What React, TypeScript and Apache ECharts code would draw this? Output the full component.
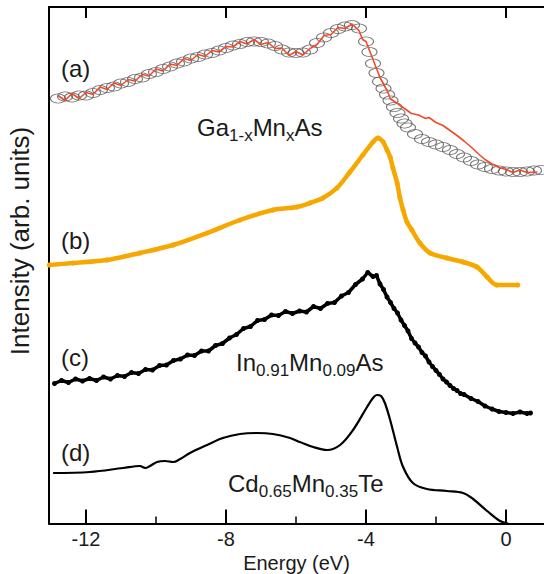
import React, { useEffect, useRef } from "react";
import * as echarts from "echarts";

const majorTicks = [-12, -8, -4, 0];
const minorTicks = [-10, -6, -2];

// (a) Ga1-xMnxAs – measured (open ellipses)
const grayA: [number, number][] = [
  [-12.8, 85.0], [-12.6, 85.4], [-12.4, 85.2], [-12.2, 85.6], [-12.0, 85.6], [-11.8, 86.1],
  [-11.6, 86.7], [-11.4, 87.1], [-11.2, 87.4], [-11.0, 88.0], [-10.8, 88.3], [-10.6, 88.9],
  [-10.4, 89.2], [-10.2, 89.9], [-10.0, 90.3], [-9.8, 90.9], [-9.6, 91.4], [-9.4, 92.0],
  [-9.2, 92.4], [-9.0, 93.0], [-8.8, 93.3], [-8.6, 93.8], [-8.4, 94.1], [-8.2, 94.6],
  [-8.0, 95.1], [-7.8, 95.6], [-7.6, 95.9], [-7.4, 96.3], [-7.2, 96.4], [-7.0, 96.3],
  [-6.8, 96.0], [-6.6, 95.5], [-6.4, 94.8], [-6.2, 94.2], [-6.0, 94.1], [-5.8, 94.2],
  [-5.6, 94.8], [-5.4, 96.1], [-5.2, 97.2], [-5.0, 98.1], [-4.8, 98.9], [-4.6, 99.4],
  [-4.4, 99.7], [-4.2, 99.0], [-4.0, 96.4], [-3.9, 94.3], [-3.8, 92.0], [-3.7, 90.1],
  [-3.6, 88.4], [-3.5, 87.0], [-3.4, 85.8], [-3.3, 84.6], [-3.2, 83.3], [-3.1, 82.1],
  [-3.0, 81.0], [-2.9, 80.0], [-2.8, 79.2], [-2.6, 77.9], [-2.4, 76.9], [-2.2, 76.3],
  [-2.0, 75.8], [-1.8, 75.3], [-1.6, 74.7], [-1.4, 73.9], [-1.2, 73.2], [-1.0, 72.5],
  [-0.8, 71.8], [-0.6, 71.3], [-0.4, 70.9], [-0.2, 70.6], [0.0, 70.4], [0.2, 70.3],
  [0.4, 70.3], [0.6, 70.4], [0.8, 70.6], [1.0, 70.7],
];

// (a) calculated (red line)
const redA: [number, number][] = [
  [-12.8, 85.6], [-12.6, 84.6], [-12.4, 86.0], [-12.2, 85.0], [-12.0, 86.2], [-11.8, 85.8],
  [-11.6, 87.3], [-11.4, 86.8], [-11.2, 88.1], [-11.0, 87.6], [-10.8, 88.8], [-10.6, 88.5],
  [-10.4, 89.8], [-10.2, 89.5], [-10.0, 90.9], [-9.8, 90.5], [-9.6, 91.9], [-9.4, 91.6],
  [-9.2, 93.0], [-9.0, 92.6], [-8.8, 93.8], [-8.6, 93.4], [-8.4, 94.6], [-8.2, 94.3],
  [-8.0, 95.4], [-7.8, 95.3], [-7.6, 96.4], [-7.4, 95.9], [-7.2, 96.8], [-7.0, 95.8],
  [-6.8, 96.2], [-6.6, 95.0], [-6.4, 95.1], [-6.2, 93.6], [-6.0, 94.4], [-5.8, 93.7],
  [-5.6, 95.0], [-5.4, 95.8], [-5.2, 97.6], [-5.0, 97.8], [-4.8, 99.2], [-4.6, 99.0],
  [-4.4, 99.9], [-4.2, 98.6], [-4.1, 96.8], [-4.0, 96.4], [-3.8, 92.8], [-3.6, 89.2],
  [-3.4, 86.6], [-3.3, 84.9], [-3.1, 84.0], [-2.9, 83.0], [-2.7, 82.0], [-2.5, 81.7],
  [-2.3, 81.0], [-2.2, 81.2], [-2.0, 80.2], [-1.8, 79.6], [-1.6, 78.6], [-1.4, 77.6],
  [-1.2, 76.5], [-1.0, 75.3], [-0.8, 74.0], [-0.6, 72.8], [-0.4, 71.9], [-0.2, 71.2],
  [0.0, 70.8], [0.2, 70.2], [0.4, 70.7], [0.6, 70.2], [0.9, 70.3],
];

// (b) orange
const orangeB: [number, number][] = [
  [-13.05, 51.7], [-12.37, 52.1], [-11.4, 52.7], [-10.46, 54.1], [-9.51, 55.7], [-8.54, 58.1],
  [-7.6, 60.7], [-6.66, 62.7], [-5.97, 63.3], [-5.6, 64.1], [-5.23, 65.1], [-4.83, 67.1],
  [-4.46, 70.3], [-4.09, 73.7], [-3.8, 76.3], [-3.66, 77.1], [-3.51, 76.3], [-3.4, 74.7],
  [-3.31, 73.3], [-3.23, 71.1], [-3.11, 68.1], [-3.03, 65.1], [-2.94, 62.7], [-2.83, 60.3],
  [-2.69, 58.7], [-2.46, 56.1], [-2.17, 54.1], [-1.69, 53.1], [-1.23, 52.3], [-0.83, 51.3],
  [-0.54, 49.3], [-0.26, 47.7], [0.34, 47.7],
];

// (c) In0.91Mn0.09As, black dots
const blackC: [number, number][] = [
  [-12.9, 28.0], [-12.7, 28.6], [-12.5, 28.2], [-12.3, 28.9], [-12.1, 28.5], [-11.9, 29.0],
  [-11.7, 28.6], [-11.5, 29.3], [-11.3, 28.9], [-11.1, 29.6], [-10.9, 29.4], [-10.7, 30.2],
  [-10.5, 30.0], [-10.3, 30.8], [-10.1, 30.7], [-9.9, 31.6], [-9.7, 31.7], [-9.5, 32.6],
  [-9.3, 32.9], [-9.1, 33.7], [-8.9, 33.6], [-8.7, 34.5], [-8.5, 34.5], [-8.3, 35.6],
  [-8.1, 36.0], [-7.9, 37.1], [-7.7, 37.8], [-7.5, 39.0], [-7.3, 39.4], [-7.1, 40.6],
  [-6.9, 40.8], [-6.7, 41.7], [-6.5, 41.6], [-6.3, 42.4], [-6.1, 42.0], [-5.9, 42.5],
  [-5.7, 42.3], [-5.5, 43.4], [-5.3, 43.0], [-5.1, 44.0], [-4.9, 44.2], [-4.7, 45.5],
  [-4.5, 46.2], [-4.3, 47.8], [-4.1, 48.9], [-3.95, 50.2], [-3.8, 49.4], [-3.7, 49.6],
  [-3.6, 47.9], [-3.5, 46.8], [-3.4, 45.3], [-3.3, 44.2], [-3.2, 43.0], [-3.1, 42.1],
  [-3.0, 40.7], [-2.9, 39.6], [-2.8, 38.5], [-2.7, 37.0], [-2.6, 36.1], [-2.5, 35.3],
  [-2.4, 34.2], [-2.3, 33.5], [-2.2, 32.3], [-2.1, 31.4], [-2.0, 30.6], [-1.9, 29.8],
  [-1.8, 28.9], [-1.7, 28.3], [-1.6, 27.6], [-1.5, 27.0], [-1.4, 26.6], [-1.3, 26.0],
  [-1.2, 25.8], [-1.0, 25.0], [-0.8, 24.4], [-0.6, 23.5], [-0.4, 22.9], [-0.2, 22.4],
  [0.0, 22.2], [0.2, 22.0], [0.4, 22.3], [0.6, 22.0], [0.7, 22.1],
];

// (d) Cd0.65Mn0.35Te, smooth line
const lineD: [number, number][] = [
  [-12.94, 10.1], [-11.89, 10.3], [-10.94, 11.1], [-10.46, 11.5], [-10.31, 11.1], [-10.17, 11.5],
  [-9.97, 12.3], [-9.74, 12.5], [-9.51, 12.3], [-9.31, 12.9], [-9.03, 14.1], [-8.54, 15.7],
  [-8.09, 17.1], [-7.6, 17.9], [-7.11, 18.1], [-6.66, 17.9], [-6.17, 17.1], [-5.89, 16.3],
  [-5.51, 15.3], [-5.11, 14.7], [-4.74, 15.7], [-4.37, 18.7], [-3.97, 23.3], [-3.8, 25.1],
  [-3.69, 25.7], [-3.57, 25.5], [-3.46, 24.1], [-3.31, 20.7], [-3.11, 15.3], [-2.94, 11.3],
  [-2.66, 8.1], [-2.26, 6.9], [-1.69, 6.5], [-1.23, 6.1], [-0.94, 4.9], [-0.54, 2.5],
  [-0.17, 0.5], [0.06, 0.0],
];

const FONT = "'Liberation Sans', Arial, Helvetica, sans-serif";
const TXT = "#1a1a1a";

// layout of the energy axis (pixels)
const W = 544;
const PX_PER_EV = 35;
const X_ZERO = 506;
const PLOT_LEFT = 49;
const Y_MIN = 0;
const Y_MAX = 103.3;
const eAt = (px: number) => (px - X_ZERO) / PX_PER_EV;

function formula(parts: [string, boolean][]) {
  return parts.map(([t, sub]) => `{${sub ? "s" : "m"}|${t}}`).join("");
}
const richStyle = {
  m: { fontSize: 24, fontFamily: FONT, fill: TXT, verticalAlign: "top" },
  s: { fontSize: 17, fontFamily: FONT, fill: TXT, verticalAlign: "top", padding: [12, 0, 0, 0] },
};

const textGraphics: any[] = [
  {
    type: "text", x: 20, y: 241, rotation: Math.PI / 2,
    style: { text: "Intensity (arb. units)", fontSize: 26, fontFamily: FONT, fill: TXT, align: "center", verticalAlign: "middle" },
  },
  { type: "text", x: 61, y: 68, style: { text: "(a)", fontSize: 24, fontFamily: FONT, fill: TXT, align: "left", verticalAlign: "middle" } },
  { type: "text", x: 61, y: 240, style: { text: "(b)", fontSize: 24, fontFamily: FONT, fill: TXT, align: "left", verticalAlign: "middle" } },
  { type: "text", x: 61, y: 357, style: { text: "(c)", fontSize: 24, fontFamily: FONT, fill: TXT, align: "left", verticalAlign: "middle" } },
  { type: "text", x: 61, y: 452, style: { text: "(d)", fontSize: 24, fontFamily: FONT, fill: TXT, align: "left", verticalAlign: "middle" } },
  {
    type: "text", x: 197, y: 115,
    style: { text: formula([["Ga", false], ["1-x", true], ["Mn", false], ["x", true], ["As", false]]), rich: richStyle, align: "left", verticalAlign: "top" },
  },
  {
    type: "text", x: 236, y: 350,
    style: { text: formula([["In", false], ["0.91", true], ["Mn", false], ["0.09", true], ["As", false]]), rich: richStyle, align: "left", verticalAlign: "top" },
  },
  {
    type: "text", x: 228, y: 471,
    style: { text: formula([["Cd", false], ["0.65", true], ["Mn", false], ["0.35", true], ["Te", false]]), rich: richStyle, align: "left", verticalAlign: "top" },
  },
];

export default function App() {
  const ref = useRef<HTMLDivElement>(null);
  useEffect(() => {
    const chart = echarts.init(ref.current!, null, { renderer: "svg" });
    const axisLineStyle = { color: "#000", width: 2 };
    chart.setOption({
      animation: false,
      backgroundColor: "#fff",
      grid: { left: PLOT_LEFT, right: 0, top: 7, bottom: 50.5, outerBoundsMode: "none", containLabel: false },
      xAxis: [
        {
          type: "value", min: eAt(PLOT_LEFT), max: eAt(W), position: "bottom",
          axisLine: { show: true, onZero: false, lineStyle: axisLineStyle },
          axisTick: { show: false },
          axisLabel: { show: true, customValues: majorTicks, fontSize: 20, fontFamily: FONT, color: TXT, margin: 5 },
          splitLine: { show: false },
          name: "Energy (eV)", nameLocation: "middle", nameGap: 29,
          nameTextStyle: { fontSize: 20, fontFamily: FONT, color: TXT },
        },
        {
          type: "value", min: eAt(PLOT_LEFT), max: eAt(W), position: "top",
          axisLine: { show: true, onZero: false, lineStyle: axisLineStyle },
          axisTick: { show: false },
          axisLabel: { show: false },
          splitLine: { show: false },
        },
      ],
      yAxis: {
        type: "value", min: Y_MIN, max: Y_MAX, position: "left",
        axisLine: { show: true, onZero: false, lineStyle: axisLineStyle },
        axisTick: { show: false },
        axisLabel: { show: false },
        splitLine: { show: false },
      },
      series: [
        {
          type: "scatter", xAxisIndex: 0, data: grayA, symbol: "circle", symbolSize: [15, 9],
          itemStyle: { color: "rgba(255,255,255,0)", borderColor: "#555", borderWidth: 0.9 },
          z: 2,
        },
        {
          type: "line", xAxisIndex: 0, data: redA, showSymbol: false, symbol: "none",
          lineStyle: { color: "#ef4b2b", width: 1.6 }, z: 3,
        },
        {
          type: "line", xAxisIndex: 0, data: orangeB, symbol: "circle", symbolSize: 5, showSymbol: true,
          itemStyle: { color: "#f6a700" }, lineStyle: { color: "#f6a700", width: 4.5 }, smooth: 0.3,
        },
        {
          type: "line", xAxisIndex: 0, data: blackC, symbol: "circle", symbolSize: 5, showSymbol: true,
          itemStyle: { color: "#000" }, lineStyle: { color: "#000", width: 3.5 },
        },
        {
          type: "line", xAxisIndex: 0, data: lineD, showSymbol: false, symbol: "none", smooth: 0.35,
          lineStyle: { color: "#000", width: 2.2 },
        },
      ],
      graphic: textGraphics,
    });

    // tick marks placed through the axis scales
    try {
      const yb = chart.convertToPixel({ yAxisIndex: 0 }, Y_MIN) as number;
      const yt = chart.convertToPixel({ yAxisIndex: 0 }, Y_MAX) as number;
      const tickRect = (v: number, y: number, h: number, w: number) => {
        const x = chart.convertToPixel({ xAxisIndex: 0 }, v) as number;
        return { type: "rect", silent: true, z: 100, shape: { x: x - w / 2, y, width: w, height: h }, style: { fill: "#000" } };
      };
      const ticks: any[] = [
        ...majorTicks.map((v) => tickRect(v, yb - 14, 14, 2)),
        ...majorTicks.map((v) => tickRect(v, yt, 11, 2)),
        ...minorTicks.map((v) => tickRect(v, yb - 7, 7, 1.5)),
      ];
      chart.setOption({ graphic: [...textGraphics, ...ticks] });
    } catch (e) {
      // leave chart without ticks
    }
    return () => chart.dispose();
  }, []);
  return <div ref={ref} style={{ position: "absolute", left: 0, top: 0, width: 544, height: 574 }} />;
}
